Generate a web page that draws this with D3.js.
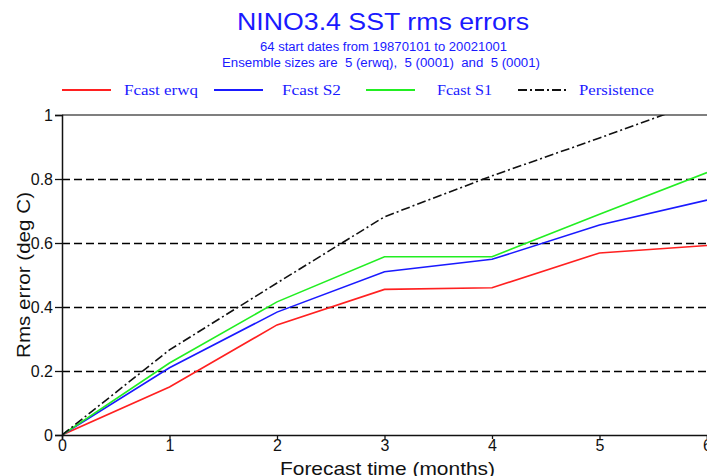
<!DOCTYPE html>
<html>
<head>
<meta charset="utf-8">
<script src="https://cdn.jsdelivr.net/npm/d3@7"></script>
<style>
  body { margin: 0; background: #fff; }
  svg { display: block; }
  text { white-space: pre; }
</style>
</head>
<body>
<svg id="chart" width="707" height="476"></svg>
<script>
// Forecast lead times (months)
const leads = [0, 1, 2, 3, 4, 5, 6];
// RMS errors (deg C) for each forecast system
const erwq = [0, 0.150, 0.344, 0.455, 0.460, 0.569, 0.592];
const s2 = [0, 0.210, 0.384, 0.510, 0.549, 0.656, 0.734];
const s1 = [0, 0.225, 0.416, 0.557, 0.557, 0.690, 0.820];
const persistence = [0, 0.266, 0.475, 0.682, 0.810, 0.928, 1.050];
const yTicks = [0, 0.2, 0.4, 0.6, 0.8, 1];
const xTicks = [0, 1, 2, 3, 4, 5, 6];

const series = [
  { name: "Fcast erwq", values: erwq, color: "#ff2020", dash: null },
  { name: "Fcast S2", values: s2, color: "#1a1aff", dash: null },
  { name: "Fcast S1", values: s1, color: "#22ee22", dash: null },
  { name: "Persistence", values: persistence, color: "#111", dash: "9,3,2,3" }
];

const sans = "Liberation Sans, Arial, sans-serif";
const serif = "Liberation Serif, Times New Roman, serif";
const svg = d3.select("#chart");
const m = { left: 62, top: 115, right: 707, bottom: 435 };

const x = d3.scaleLinear().domain([0, 6]).range([m.left, m.right]);
const y = d3.scaleLinear().domain([0, 1]).range([m.bottom, m.top]);

// Titles
function title(txt, cx, cy, size, width) {
  svg.append("text").attr("x", cx - width / 2).attr("y", cy)
    .attr("font-family", sans).attr("font-size", size).attr("fill", "#1a1aff")
    .attr("textLength", width).attr("lengthAdjust", "spacingAndGlyphs")
    .attr("xml:space", "preserve").text(txt);
}
title("NINO3.4 SST rms errors", 383, 30, 24, 292);
title("64 start dates from 19870101 to 20021001", 383.5, 51, 12.5, 247);
title("Ensemble sizes are  5 (erwq),  5 (0001)  and  5 (0001)", 381, 67, 12.5, 318);

// Legend
const legendX = [62, 214, 366, 518];
const legendTextX = [124, 282, 437, 579];
const legendTextW = [74, 59, 55, 75];
series.forEach((s, i) => {
  svg.append("line").attr("x1", legendX[i]).attr("x2", legendX[i] + 49)
    .attr("y1", 90).attr("y2", 90)
    .attr("stroke", s.color).attr("stroke-width", 2)
    .attr("stroke-dasharray", s.dash);
  svg.append("text").attr("x", legendTextX[i]).attr("y", 95)
    .attr("font-family", serif).attr("font-size", 14.5)
    .attr("textLength", legendTextW[i]).attr("lengthAdjust", "spacingAndGlyphs")
    .attr("fill", "#1a1aff").text(s.name);
});

// Grid lines
svg.append("g").selectAll("line").data(yTicks.filter(d => d > 0 && d < 1)).join("line")
  .attr("x1", m.left).attr("x2", m.right)
  .attr("y1", d => y(d) + 0.5).attr("y2", d => y(d) + 0.5)
  .attr("stroke", "#000").attr("stroke-width", 1.3).attr("stroke-dasharray", "8,4");

// Top frame
svg.append("line").attr("x1", m.left).attr("x2", m.right)
  .attr("y1", y(1)).attr("y2", y(1)).attr("stroke", "#555").attr("stroke-width", 1.5);

// Data lines clipped to the plot area
svg.append("clipPath").attr("id", "plot").append("rect")
  .attr("x", m.left).attr("y", m.top).attr("width", m.right - m.left).attr("height", m.bottom - m.top);
const line = d3.line().x((d, i) => x(leads[i])).y(d => y(d));
svg.append("g").attr("clip-path", "url(#plot)").selectAll("path").data(series).join("path")
  .attr("d", d => line(d.values)).attr("fill", "none")
  .attr("stroke", d => d.color).attr("stroke-width", 1.6)
  .attr("stroke-dasharray", d => d.dash);

// Axes
const yAxis = d3.axisLeft(y).tickValues(yTicks).tickSize(7).tickPadding(2)
  .tickFormat(d => d === 0 ? "0" : d === 1 ? "1" : d3.format(".1f")(d));
const gy = svg.append("g").attr("transform", `translate(${m.left},0)`).call(yAxis);
gy.select(".domain").attr("stroke", "#111").attr("stroke-width", 1.5);
gy.selectAll(".tick line").attr("stroke", "#111").attr("stroke-width", 1.3);
gy.selectAll("text").attr("font-family", sans).attr("font-size", 16).attr("fill", "#111");

const xAxis = d3.axisBottom(x).tickValues(xTicks).tickSize(4).tickPadding(1)
  .tickFormat(d3.format("d"));
const gx = svg.append("g").attr("transform", `translate(0,${m.bottom})`).call(xAxis);
gx.select(".domain").attr("stroke", "#111").attr("stroke-width", 1.5);
gx.selectAll(".tick line").attr("stroke", "#111").attr("stroke-width", 1.3);
gx.selectAll("text").attr("font-family", sans).attr("font-size", 16).attr("fill", "#111");

// Axis titles
svg.append("text").attr("x", 280).attr("y", 475)
  .attr("font-family", sans).attr("font-size", 19)
  .attr("textLength", 215).attr("lengthAdjust", "spacingAndGlyphs")
  .attr("fill", "#111").text("Forecast time (months)");
svg.append("text").attr("transform", "translate(30,358) rotate(-90)")
  .attr("font-family", sans).attr("font-size", 18)
  .attr("textLength", 166).attr("lengthAdjust", "spacingAndGlyphs")
  .attr("fill", "#111").text("Rms error (deg C)");
</script>
</body>
</html>
